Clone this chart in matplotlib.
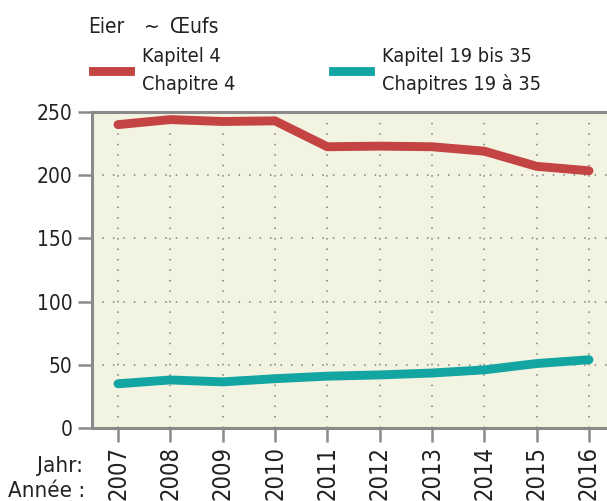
import matplotlib
matplotlib.use("Agg")
import matplotlib.pyplot as plt

years = [2007, 2008, 2009, 2010, 2011, 2012, 2013, 2014, 2015, 2016]
kapitel_4 = [240, 244, 242.5, 243, 222.5, 223, 222.5, 219, 207, 203.5]
kapitel_19_35 = [35, 38, 36.5, 39, 41, 42, 43.5, 46, 51, 54]
y_ticks = [0, 50, 100, 150, 200, 250]

red = "#c44343"
teal = "#13a5a2"
grey = "#8a8a8a"
ink = "#222222"

plt.rcParams['font.family'] = ['DejaVu Sans']
plt.rcParams['font.stretch'] = 'condensed'

fig = plt.figure(figsize=(6.07, 5.01), dpi=100)
ax = fig.add_axes([92/607, 73/501, 515/607, 316/501])
ax.set_facecolor("#f3f3e2")

ax.plot(years, kapitel_4, color=red, lw=6.4, solid_capstyle="round", solid_joinstyle="round", zorder=3)
ax.plot(years, kapitel_19_35, color=teal, lw=6.4, solid_capstyle="round", solid_joinstyle="round", zorder=3)

ax.set_xlim(2006.503, 2016.344)
ax.set_ylim(0, 250)
ax.set_yticks(y_ticks)
ax.set_xticks(years)
ax.set_xticklabels([str(y) for y in years], rotation=90, va="top", ha="center")

for y in y_ticks[1:-1]:
    ax.axhline(y, color=grey, lw=1.3, ls=(0, (0.8, 5)), zorder=1)
for x in years:
    ax.axvline(x, color=grey, lw=1.3, ls=(0, (0.8, 5)), zorder=1)

ax.tick_params(axis="both", length=10, width=1.8, color=grey, labelcolor=ink)
ax.tick_params(axis="y", pad=4, labelsize=15)
ax.tick_params(axis="x", pad=3, labelsize=17)
for side in ["left", "top", "bottom"]:
    ax.spines[side].set_color(grey)
    ax.spines[side].set_linewidth(2.2)
ax.spines["right"].set_visible(False)

fig.text(88/607, 1 - 27/501, "Eier", fontsize=15, color=ink, va="center", ha="left")
fig.text(152/607, 1 - 27/501, "~", fontsize=15, color=ink, va="center", ha="center")
fig.text(170/607, 1 - 27/501, "Œufs", fontsize=15, color=ink, va="center", ha="left")

fig.add_artist(plt.Line2D([93/607, 130/607], [1 - 71/501] * 2, color=red, lw=6.4))
fig.text(142/607, 1 - 57/501, "Kapitel 4", fontsize=14.3, color=ink, va="center", ha="left")
fig.text(142/607, 1 - 84/501, "Chapitre 4", fontsize=14.3, color=ink, va="center", ha="left")

fig.add_artist(plt.Line2D([333/607, 370/607], [1 - 71/501] * 2, color=teal, lw=6.4))
fig.text(382/607, 1 - 57/501, "Kapitel 19 bis 35", fontsize=14.3, color=ink, va="center", ha="left")
fig.text(382/607, 1 - 84/501, "Chapitres 19 à 35", fontsize=14.3, color=ink, va="center", ha="left")

fig.text(83/607, 1 - 466/501, "Jahr:", fontsize=16, color=ink, va="center", ha="right")
fig.text(85/607, 1 - 491/501, "Année :", fontsize=16, color=ink, va="center", ha="right")

fig.savefig("out.png", dpi=100)
